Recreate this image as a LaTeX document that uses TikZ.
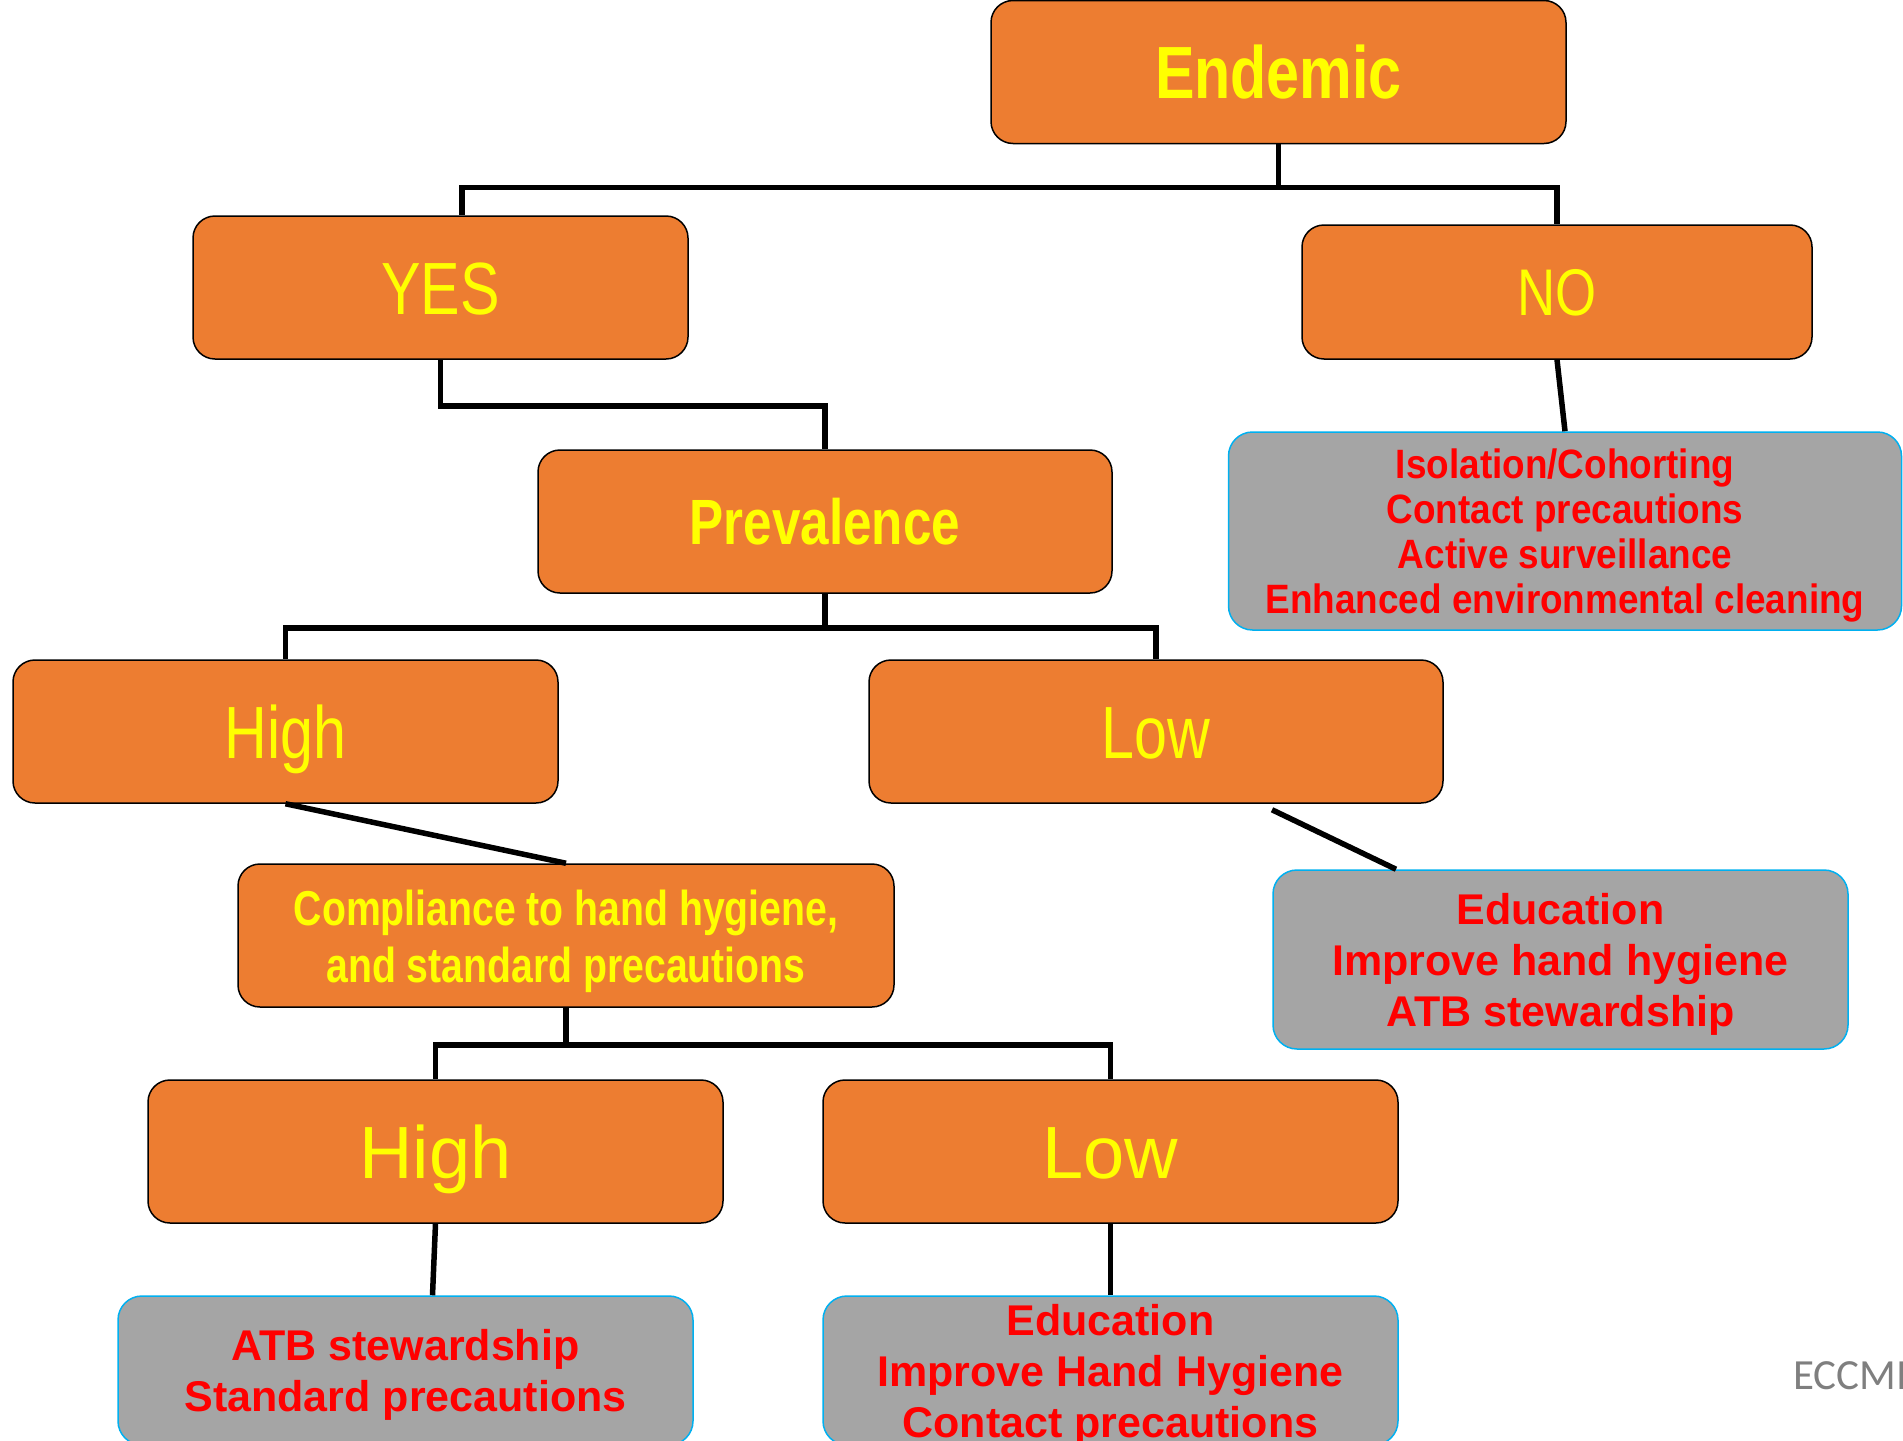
\documentclass[tikz,border=0pt]{standalone}
\usepackage{fontspec}
\setmainfont{Liberation Sans}
\newfontfamily\condfont[FakeStretch=0.8]{Liberation Sans}
\newfontfamily\semifont[FakeStretch=0.9]{Liberation Sans}
\newfontfamily\notefont{Carlito}
\definecolor{boxorange}{HTML}{ED7D31}
\definecolor{boxyellow}{HTML}{FFFF00}
\definecolor{boxgray}{HTML}{A5A5A5}
\definecolor{boxred}{HTML}{FF0000}
\definecolor{rimblue}{HTML}{00B0F0}
\definecolor{notegray}{HTML}{7F7F7F}
\tikzstyle{choice} = [rectangle, draw, fill=boxorange, text=boxyellow, rounded corners=22pt, line width=1.5pt, inner sep=0pt, text depth=0pt, align=center, minimum height=143pt]
\tikzstyle{action} = [rectangle, draw=rimblue, fill=boxgray, text=boxred, rounded corners=24pt, line width=1.5pt, inner sep=0pt, text depth=0pt, align=center]
\tikzstyle{connector} = [line width=5.5pt]

\begin{document}
\begin{tikzpicture}[x=1pt, y=-1pt]
        \useasboundingbox (0,0) rectangle (1903,1440);
        \clip (0,0) rectangle (1903,1440);
        % top level
        \node (endemic) [choice, minimum width=575pt, text height=53pt, font=\condfont\bfseries\fontsize{74}{74}\selectfont] at (1278.5,72) {Endemic};
        \node (yes) [choice, minimum width=495pt, text height=53pt, font=\condfont\fontsize{74}{74}\selectfont] at (440.5,287.5) {YES};
        \node (no) [choice, minimum width=510pt, minimum height=134pt, text height=47pt, font=\condfont\fontsize{66}{66}\selectfont] at (1557,292) {NO};
        \node (isolation) [action, minimum width=673pt, minimum height=198pt, text height=164pt, font=\semifont\bfseries\fontsize{41}{45}\selectfont] at (1565,531) {Isolation/Cohorting\\Contact precautions\\Active surveillance\\Enhanced environmental cleaning};
        % prevalence level
        \node (prevalence) [choice, minimum width=574pt, text height=46pt, font=\condfont\bfseries\fontsize{64}{64}\selectfont] at (825,521.5) {Prevalence};
        \node (high) [choice, minimum width=545pt, text height=53pt, font=\condfont\fontsize{74}{74}\selectfont] at (285.5,731.5) {High};
        \node (low) [choice, minimum width=574pt, text height=53pt, font=\condfont\fontsize{74}{74}\selectfont] at (1156,731.5) {Low};
        \node (education) [action, minimum width=575pt, minimum height=179pt, text height=133pt, font=\bfseries\fontsize{43}{51}\selectfont] at (1560.5,959.5) {Education\\Improve hand hygiene\\ATB stewardship};
        % compliance level
        \node (compliance) [choice, minimum width=656pt, text height=93pt, font=\condfont\bfseries\fontsize{49}{57}\selectfont] at (566,935.5) {Compliance to hand hygiene,\\and standard precautions};
        \node (high-2) [choice, minimum width=575pt, text height=53pt, font=\fontsize{74}{74}\selectfont] at (435.5,1151.5) {High};
        \node (low-2) [choice, minimum width=575pt, text height=53pt, font=\fontsize{74}{74}\selectfont] at (1110.5,1151.5) {Low};
        \node (stewardship) [action, minimum width=575pt, minimum height=149pt, text height=82pt, font=\bfseries\fontsize{43}{51}\selectfont] at (405.5,1370.5) {ATB stewardship\\Standard precautions};
        \node (education-2) [action, minimum width=575pt, minimum height=149pt, text height=133pt, font=\bfseries\fontsize{43}{51}\selectfont] at (1110.5,1370.5) {Education\\Improve Hand Hygiene\\Contact precautions};
        \node (eccmi) [anchor=base west, inner sep=0pt, text=notegray, font=\notefont\fontsize{43}{43}\selectfont] at (1793,1389) {ECCMI};
        % connectors
        \draw [connector] (endemic.south) -- ++(0,43) -| ([xshift=21.5pt]yes.north);
        \draw [connector] (endemic.south) -- ++(0,43) -| (no.north);
        \draw [connector] (yes.south) -- ++(0,46) -| (prevalence.north);
        \draw [connector] (no.south) -- (isolation.north);
        \draw [connector] (prevalence.south) -- ++(0,34) -| (high.north);
        \draw [connector] (prevalence.south) -- ++(0,34) -| (low.north);
        \draw [connector] (high.south) -- (compliance.north);
        \draw [connector] ([xshift=116pt,yshift=-6pt]low.south) -- ([xshift=-164.5pt]education.north);
        \draw [connector] (compliance.south) -- ++(0,37) -| (high-2.north);
        \draw [connector] (compliance.south) -- ++(0,37) -| (low-2.north);
        \draw [connector] (high-2.south) -- ([xshift=-3pt]high-2.south |- stewardship.north);
        \draw [connector] (low-2.south) -- (low-2.south |- education-2.north);
    \end{tikzpicture}
\end{document}
